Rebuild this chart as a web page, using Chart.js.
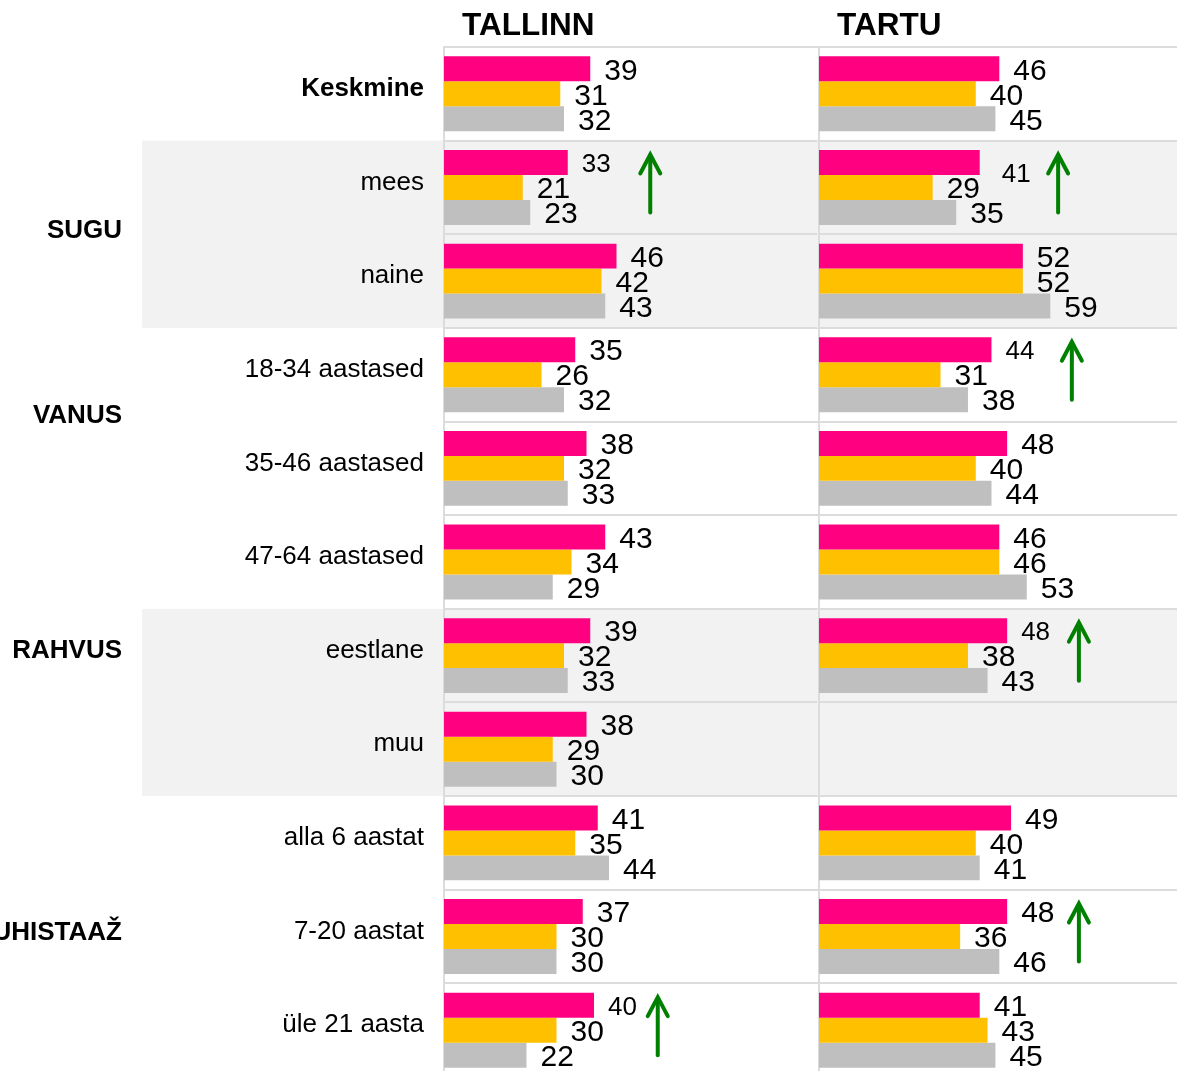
<!DOCTYPE html>
<html>
<head>
<meta charset="utf-8">
<script src="https://cdn.jsdelivr.net/npm/chart.js@4.4.0/dist/chart.umd.min.js"></script>
<style>
html, body { margin: 0; padding: 0; background: #fff; overflow: hidden; }
#wrap { position: relative; width: 1177px; height: 1071px; overflow: hidden; }
canvas { position: absolute; top: 0; }
#tallinn { left: 0; }
#tartu { left: 817px; }
</style>
</head>
<body>
<div id="wrap">
  <canvas id="tallinn" width="819" height="1080"></canvas>
  <canvas id="tartu" width="394" height="1080"></canvas>
</div>
<script>
var categories = ['Keskmine', 'mees', 'naine', '18-34 aastased', '35-46 aastased', '47-64 aastased',
                  'eestlane', 'muu', 'alla 6 aastat', '7-20 aastat', 'üle 21 aasta']
var groupNames = ['SUGU', 'VANUS', 'RAHVUS', 'JUHISTAAŽ']
var shadedBlocks = [[1, 2], [6, 7]]

var tallinnPink   = [39, 33, 46, 35, 38, 43, 39, 38, 41, 37, 40]
var tallinnYellow = [31, 21, 42, 26, 32, 34, 32, 29, 35, 30, 30]
var tallinnGray   = [32, 23, 43, 32, 33, 29, 33, 30, 44, 30, 22]

var tartuPink   = [46, 41, 52, 44, 48, 46, 48, null, 49, 48, 41]
var tartuYellow = [40, 29, 52, 31, 40, 46, 38, null, 40, 36, 43]
var tartuGray   = [45, 35, 59, 38, 44, 53, 43, null, 41, 46, 45]

// rows with a green "up" arrow, and where on the value axis it stands
var tallinnArrowRows = [1, 10]
var tallinnArrowAt   = [55, 57]
var tartuArrowRows = [1, 3, 6, 9]
var tartuArrowAt   = [61, 64.5, 66.3, 66.3]

Chart.defaults.font.family = '"Liberation Sans", Arial, sans-serif'
Chart.defaults.color = '#000'

var colors = ['#ff0080', '#ffc000', '#bfbfbf']
var FONT = '"Liberation Sans", Arial, sans-serif'

var decor = {
    id: 'decor',
    beforeDraw: function(chart, args, opts) {
        var ctx = chart.ctx
        var y = chart.scales.y
        var step = y.getPixelForValue(1) - y.getPixelForValue(0)
        ctx.save()
        ctx.fillStyle = '#f2f2f2'
        shadedBlocks.forEach(function(b) {
            var top = y.getPixelForValue(b[0]) - step / 2
            var bottom = y.getPixelForValue(b[1]) + step / 2
            ctx.fillRect(opts.bandLeft, top, chart.width - opts.bandLeft, bottom - top)
        })
        ctx.restore()
    },
    afterDatasetsDraw: function(chart, args, opts) {
        var ctx = chart.ctx
        var x = chart.scales.x
        var y = chart.scales.y
        var area = chart.chartArea
        ctx.save()

        // value labels
        ctx.textAlign = 'left'
        ctx.textBaseline = 'alphabetic'
        ctx.fillStyle = '#000'
        chart.data.datasets.forEach(function(ds, d) {
            var meta = chart.getDatasetMeta(d)
            meta.data.forEach(function(bar, i) {
                var v = ds.data[i]
                if (v === null) return
                var small = d === 0 && opts.small.indexOf(i) !== -1
                var size = small ? 26 : 30
                var dx = 0, dy = 0
                if (d === 0 && opts.shifted.indexOf(i) !== -1) { dx = 8; dy = 10 }
                ctx.font = size + 'px ' + FONT
                ctx.fillText(String(v), bar.x + 14 + dx, bar.y + size * 0.358 + dy)
            })
        })

        // arrows
        ctx.strokeStyle = '#008000'
        ctx.lineWidth = 4
        ctx.lineCap = 'round'
        ctx.lineJoin = 'miter'
        opts.arrowRows.forEach(function(r, k) {
            var ax = x.getPixelForValue(opts.arrowAt[k])
            var cy = y.getPixelForValue(r) - 5
            var top = cy - 29, bottom = cy + 30
            ctx.beginPath()
            ctx.moveTo(ax, bottom)
            ctx.lineTo(ax, top + 2)
            ctx.stroke()
            ctx.beginPath()
            ctx.moveTo(ax - 10, top + 20)
            ctx.lineTo(ax, top + 1)
            ctx.lineTo(ax + 10, top + 20)
            ctx.stroke()
        })

        // panel title
        ctx.font = 'bold 31.5px ' + FONT
        ctx.fillStyle = '#000'
        ctx.fillText(opts.title, area.left + 18, 35)

        // group labels
        if (opts.groups) {
            ctx.font = 'bold 26px ' + FONT
            ctx.textAlign = 'right'
            groupNames.forEach(function(name, k) {
                ctx.fillText(name, 122, y.getPixelForValue(opts.groupAt[k]) + 9)
            })
        }
        ctx.restore()
    }
}

function makeChart(id, pink, yellow, gray, isLeft, opts) {
    return new Chart(document.getElementById(id), {
        type: 'bar',
        data: {
            labels: categories,
            datasets: [
                { label: 'pink', data: pink, backgroundColor: colors[0] },
                { label: 'yellow', data: yellow, backgroundColor: colors[1] },
                { label: 'gray', data: gray, backgroundColor: colors[2] }
            ]
        },
        options: {
            indexAxis: 'y',
            responsive: false,
            animation: false,
            layout: { padding: { top: 47, bottom: 3, left: 0, right: 0 } },
            datasets: { bar: { categoryPercentage: 0.8, barPercentage: 1.0, borderWidth: 0 } },
            scales: {
                x: { display: false, min: 0, max: 100 },
                y: {
                    offset: true,
                    grid: { offset: true, color: '#dcdcdc', lineWidth: 2, drawTicks: false },
                    border: { display: true, color: '#dcdcdc', width: 2 },
                    ticks: {
                        display: isLeft,
                        autoSkip: false,
                        padding: 20,
                        labelOffset: -5,
                        color: '#000',
                        font: function(c) {
                            return { size: 26, weight: c.index === 0 ? 'bold' : 'normal' }
                        }
                    },
                    afterFit: function(scale) {
                        scale.width = isLeft ? 444 : 2
                        scale.paddingTop = 0
                        scale.paddingBottom = 0
                    }
                }
            },
            plugins: {
                legend: { display: false },
                tooltip: { enabled: false },
                decor: opts
            }
        },
        plugins: [decor]
    })
}

makeChart('tallinn', tallinnPink, tallinnYellow, tallinnGray, true, {
    title: 'TALLINN',
    bandLeft: 142,
    small: [1, 10],
    shifted: [],
    arrowRows: tallinnArrowRows,
    arrowAt: tallinnArrowAt,
    groups: true,
    groupAt: [1.44, 3.42, 5.93, 8.94]
})

makeChart('tartu', tartuPink, tartuYellow, tartuGray, false, {
    title: 'TARTU',
    bandLeft: 0,
    small: [1, 3, 6],
    shifted: [1],
    arrowRows: tartuArrowRows,
    arrowAt: tartuArrowAt,
    groups: false
})
</script>
</body>
</html>
